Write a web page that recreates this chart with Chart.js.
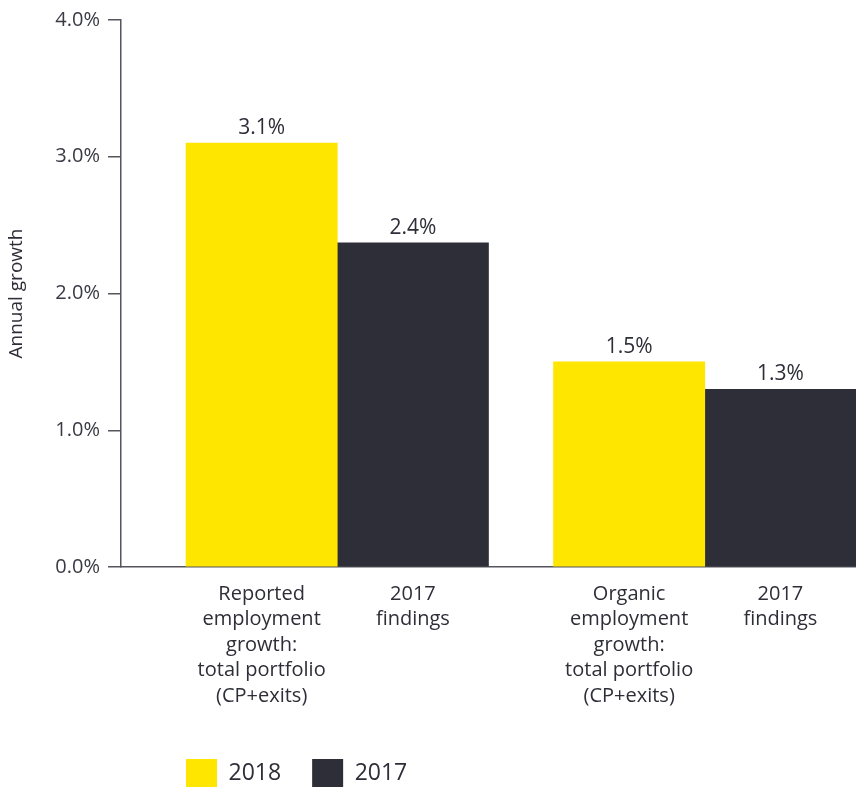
<!DOCTYPE html>
<html>
<head>
<meta charset="utf-8">
<script src="https://cdn.jsdelivr.net/npm/chart.js@4.4.1/dist/chart.umd.min.js"></script>
<style>
  html, body { margin: 0; padding: 0; background: #fff; }
  #wrap { width: 856px; height: 787px; }
</style>
</head>
<body>
<div id="wrap"><canvas id="growth" width="856" height="787"></canvas></div>
<script>
// chart data
const categories = [
  ['Reported', 'employment', 'growth:', 'total portfolio', '(CP+exits)'],
  ['2017', 'findings'],
  ['Organic', 'employment', 'growth:', 'total portfolio', '(CP+exits)'],
  ['2017', 'findings']
];
const seriesNames = ['2018', '2017'];
const values2018 = [3.1, 1.5];
const values2017 = [2.37, 1.3];
const yTicks = [0, 1, 2, 3, 4];

const yellow = '#FFE600';
const dark = '#2E2E38';
const textColor = '#2E2E38';
const axisColor = '#55555d';
const fontFamily = '"Open Sans", "Noto Sans", sans-serif';

// each bar is one unit wide on the x axis, groups separated by a gap
const GROUP_GAP = 0.43;
const slot = (group, k) => GROUP_GAP * (group + 1) + group * 2 + k + 0.5;
const tickPositions = categories.map((c, i) => slot(Math.floor(i / 2), i % 2));

const valueLabels = {
  id: 'valueLabels',
  afterDatasetsDraw(chart) {
    const ctx = chart.ctx;
    ctx.save();
    ctx.font = `21px ${fontFamily}`;
    ctx.fillStyle = textColor;
    ctx.textAlign = 'center';
    ctx.textBaseline = 'alphabetic';
    chart.data.datasets.forEach((ds, i) => {
      chart.getDatasetMeta(i).data.forEach((bar, j) => {
        ctx.fillText(ds.data[j].y.toFixed(1) + '%', bar.x, bar.y - 9);
      });
    });
    ctx.restore();
  }
};

// line the legend up with the left edge of the first bar
const legendUnderBars = {
  id: 'legendUnderBars',
  beforeDraw(chart) {
    const first = chart.getDatasetMeta(0).data[0];
    chart.legend.left = first.x - first.width / 2 - chart.legend.options.labels.padding;
  }
};

new Chart(document.getElementById('growth').getContext('2d'), {
  type: 'bar',
  data: {
    datasets: [
      {
        label: seriesNames[0],
        data: values2018.map((v, g) => ({ x: slot(g, 0), y: v })),
        backgroundColor: yellow,
        borderWidth: 0
      },
      {
        label: seriesNames[1],
        data: values2017.map((v, g) => ({ x: slot(g, 1), y: v })),
        backgroundColor: dark,
        borderWidth: 0
      }
    ]
  },
  options: {
    responsive: false,
    animation: false,
    grouped: false,
    barPercentage: 1,
    categoryPercentage: 1,
    layout: {
      padding: { top: 19, right: 0, bottom: -10, left: 0 }
    },
    scales: {
      x: {
        type: 'linear',
        offset: false,
        min: 0,
        max: GROUP_GAP * 2 + 4,
        afterBuildTicks: axis => {
          axis.ticks = tickPositions.map(v => ({ value: v }));
        },
        afterFit: axis => { axis.height = 161; },
        grid: { display: false, drawTicks: false, offset: false },
        border: { display: true, color: axisColor, width: 1.5 },
        ticks: {
          autoSkip: false,
          maxRotation: 0,
          minRotation: 0,
          padding: 14,
          color: textColor,
          font: { family: fontFamily, size: 20, weight: 500, lineHeight: 1.28 },
          callback: (v, i) => categories[i]
        }
      },
      y: {
        min: 0,
        max: 4,
        afterBuildTicks: axis => {
          axis.ticks = yTicks.map(v => ({ value: v }));
        },
        afterFit: axis => { axis.width = 121; },
        grid: {
          drawOnChartArea: false,
          drawTicks: true,
          tickLength: 13,
          color: axisColor,
          lineWidth: 1.5
        },
        border: { display: true, color: axisColor, width: 1.5 },
        ticks: {
          padding: 8,
          color: '#3a3a44',
          font: { family: fontFamily, size: 20 },
          callback: v => v.toFixed(1) + '%'
        },
        title: {
          display: true,
          text: 'Annual growth',
          color: textColor,
          font: { family: fontFamily, size: 19 },
          padding: { top: 5, bottom: 0 }
        }
      }
    },
    plugins: {
      legend: {
        position: 'bottom',
        align: 'start',
        fullSize: false,
        labels: {
          boxWidth: 31,
          boxHeight: 28,
          padding: 31,
          color: textColor,
          font: { family: fontFamily, size: 23 }
        }
      },
      tooltip: { enabled: false }
    }
  },
  plugins: [valueLabels, legendUnderBars]
});
</script>
</body>
</html>
